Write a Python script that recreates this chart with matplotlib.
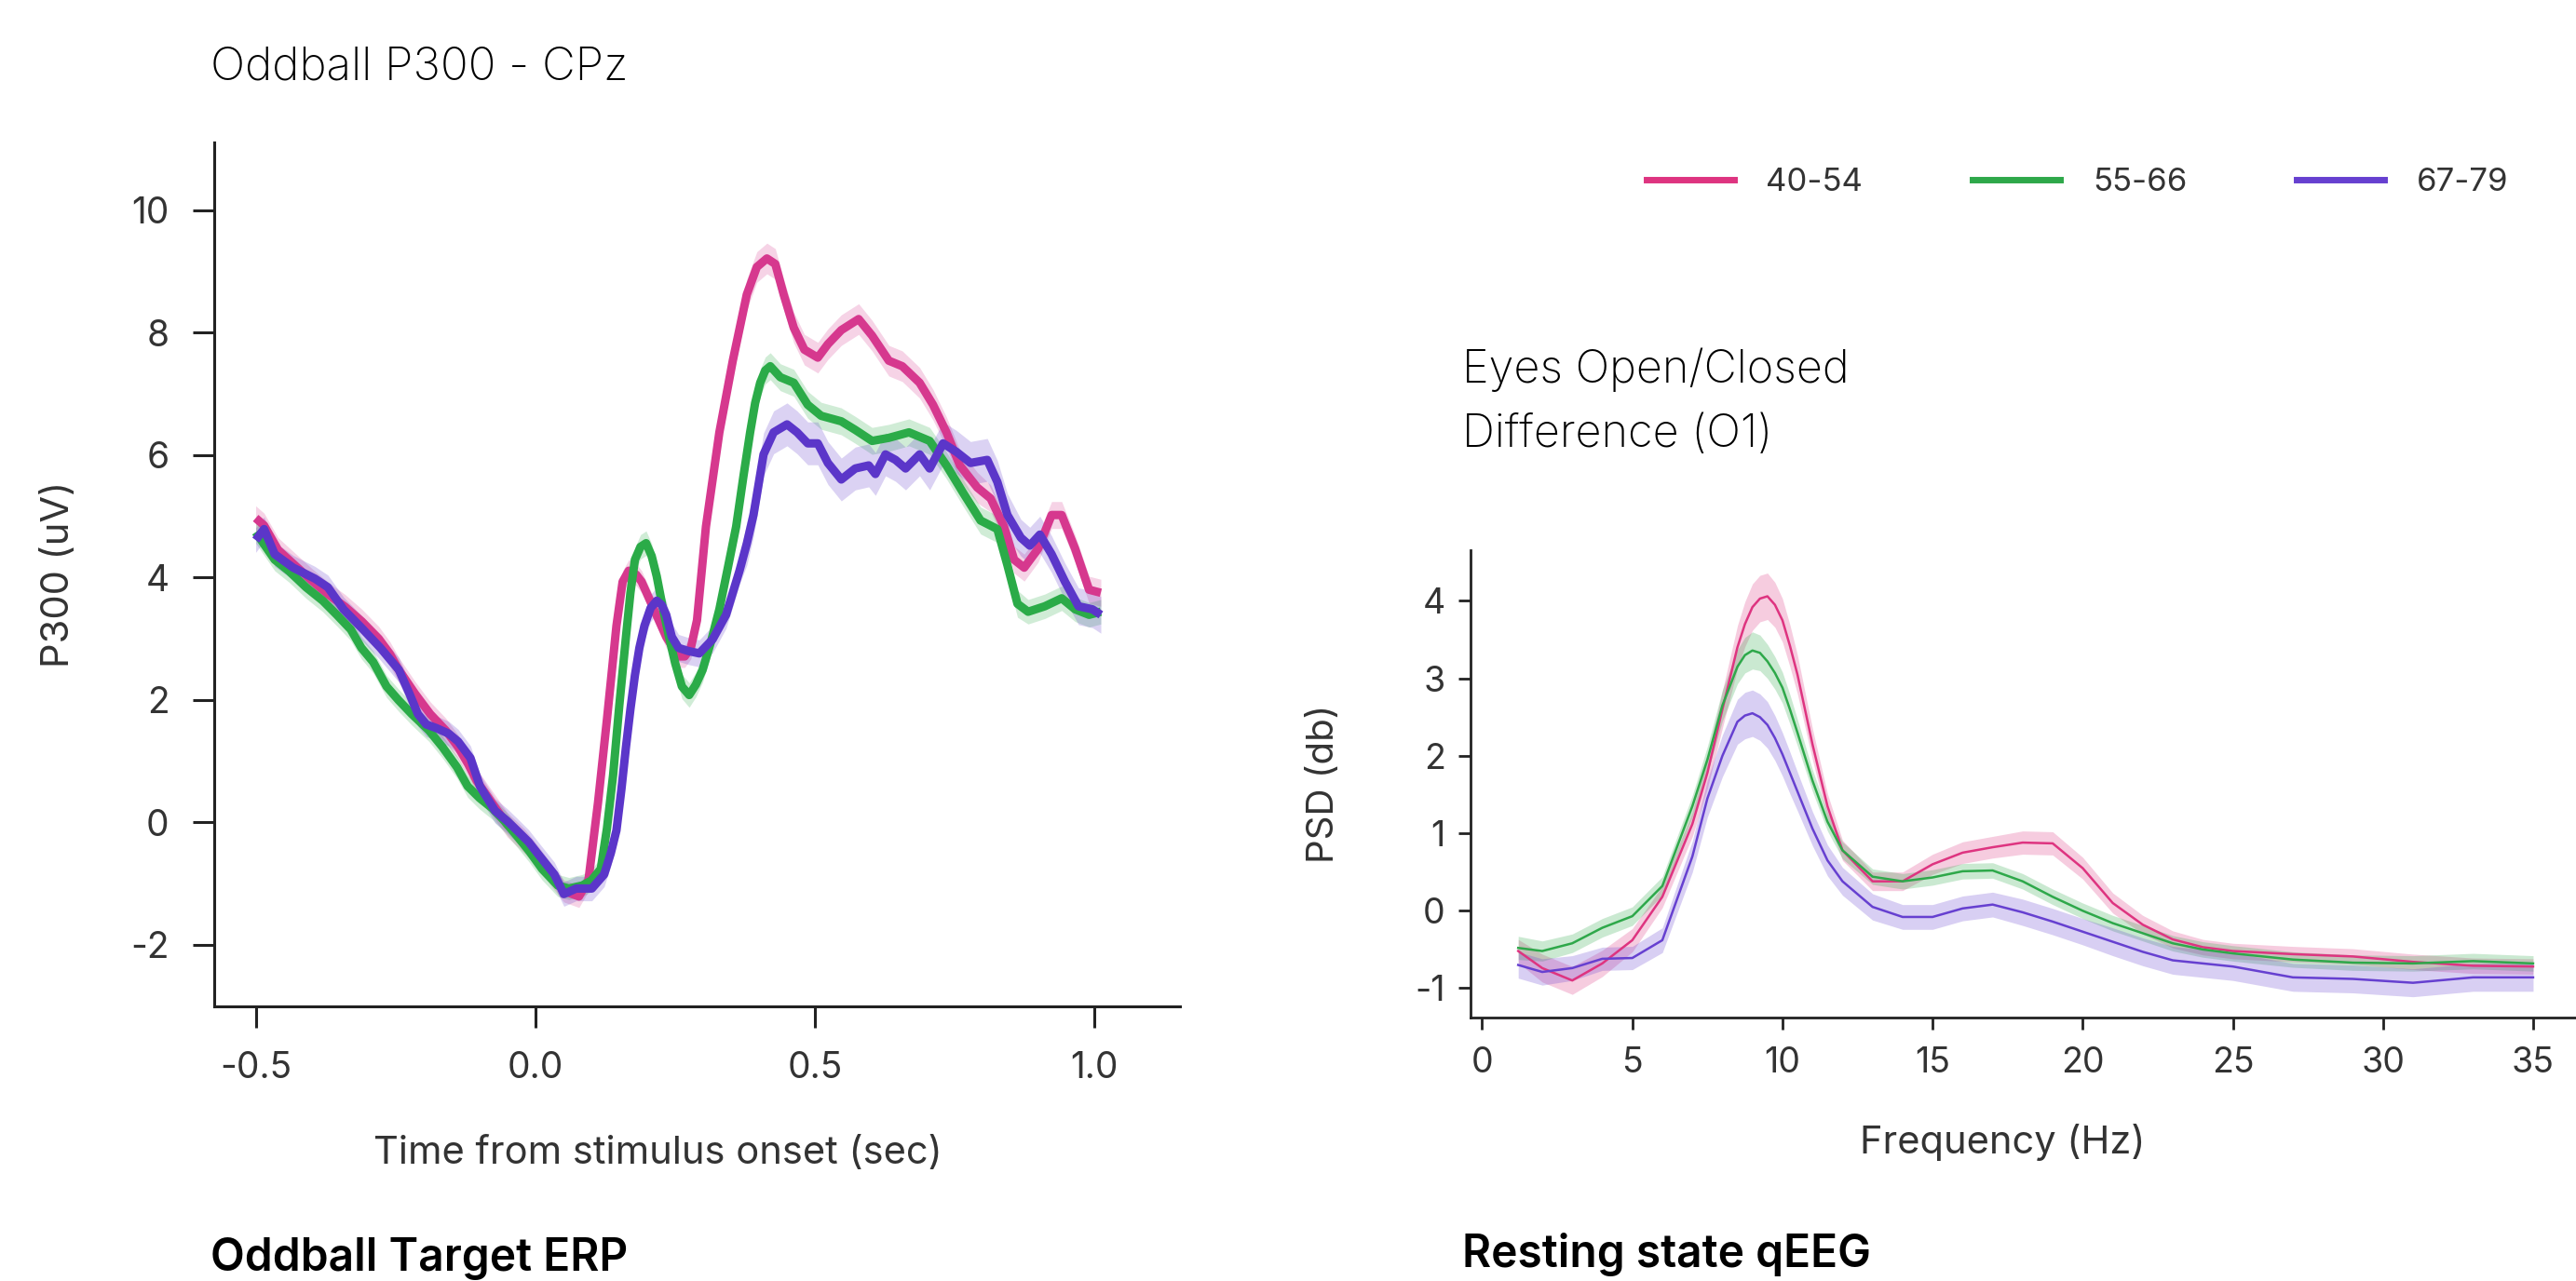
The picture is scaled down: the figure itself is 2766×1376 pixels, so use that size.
import matplotlib
matplotlib.use("Agg")
import matplotlib.pyplot as plt

plt.rcParams['font.family'] = ['Inter', 'DejaVu Sans']
plt.rcParams['axes.unicode_minus'] = False

# ---- ERP (oddball target, CPz) ----
pink_t = [-0.50, -0.485, -0.46, -0.43, -0.40, -0.37, -0.34, -0.31, -0.28, -0.26,
          -0.244, -0.215, -0.188, -0.16, -0.138, -0.12, -0.105, -0.08, -0.05, -0.02,
          0.006, 0.03, 0.051, 0.078, 0.095, 0.112, 0.128, 0.145, 0.156, 0.167,
          0.18, 0.19, 0.212, 0.234, 0.256, 0.267, 0.278, 0.289, 0.305, 0.329,
          0.353, 0.378, 0.396, 0.414, 0.429, 0.444, 0.462, 0.481, 0.505, 0.523,
          0.547, 0.578, 0.602, 0.632, 0.656, 0.687, 0.711, 0.735, 0.759, 0.79,
          0.814, 0.838, 0.856, 0.874, 0.899, 0.923, 0.941, 0.965, 0.99, 1.011]
pink_v = [4.97, 4.85, 4.45, 4.20, 3.95, 3.72, 3.52, 3.28, 3.00, 2.75,
          2.49, 2.10, 1.77, 1.50, 1.23, 0.95, 0.68, 0.35, -0.04, -0.30,
          -0.58, -0.88, -1.12, -1.21, -0.94, 0.32, 1.68, 3.21, 3.93, 4.11,
          4.05, 3.93, 3.48, 3.03, 2.71, 2.71, 2.85, 3.30, 4.83, 6.37,
          7.54, 8.62, 9.07, 9.21, 9.12, 8.62, 8.08, 7.72, 7.59, 7.81,
          8.04, 8.22, 7.95, 7.54, 7.45, 7.18, 6.82, 6.37, 5.83, 5.47,
          5.29, 4.83, 4.29, 4.16, 4.47, 5.02, 5.02, 4.47, 3.80, 3.75]
pink_sem = [0.20, 0.20, 0.20, 0.20, 0.20, 0.20, 0.20, 0.20, 0.20, 0.20,
            0.20, 0.20, 0.20, 0.20, 0.20, 0.20, 0.20, 0.20, 0.20, 0.20,
            0.18, 0.18, 0.18, 0.18, 0.18, 0.18, 0.18, 0.18, 0.18, 0.18,
            0.18, 0.18, 0.18, 0.18, 0.18, 0.18, 0.18, 0.18, 0.20, 0.22,
            0.25, 0.25, 0.25, 0.25, 0.25, 0.25, 0.25, 0.25, 0.25, 0.25,
            0.25, 0.25, 0.25, 0.25, 0.25, 0.25, 0.25, 0.25, 0.25, 0.25,
            0.22, 0.22, 0.22, 0.22, 0.22, 0.22, 0.22, 0.22, 0.22, 0.22]

green_t = [-0.50, -0.466, -0.44, -0.41, -0.38, -0.355, -0.33, -0.311, -0.29, -0.266,
           -0.245, -0.221, -0.19, -0.166, -0.14, -0.121, -0.10, -0.077, -0.055, -0.033,
           -0.01, 0.012, 0.04, 0.06, 0.084, 0.10, 0.117, 0.128, 0.139, 0.15,
           0.162, 0.17, 0.178, 0.188, 0.198, 0.208, 0.217, 0.228, 0.239, 0.25,
           0.262, 0.275, 0.287, 0.299, 0.314, 0.329, 0.344, 0.359, 0.372, 0.384,
           0.393, 0.402, 0.411, 0.42, 0.438, 0.462, 0.487, 0.511, 0.547, 0.572,
           0.602, 0.632, 0.668, 0.705, 0.735, 0.765, 0.796, 0.826, 0.844, 0.862,
           0.881, 0.911, 0.941, 0.965, 0.99, 1.011]
green_v = [4.74, 4.29, 4.10, 3.84, 3.62, 3.39, 3.15, 2.85, 2.62, 2.22,
           2.00, 1.77, 1.50, 1.23, 0.90, 0.59, 0.40, 0.23, 0.02, -0.22,
           -0.48, -0.76, -1.03, -1.08, -1.03, -0.95, -0.76, -0.10, 0.77, 1.90,
           3.03, 3.75, 4.29, 4.50, 4.56, 4.35, 4.02, 3.50, 3.03, 2.60,
           2.22, 2.08, 2.25, 2.49, 2.95, 3.48, 4.15, 4.83, 5.65, 6.37,
           6.85, 7.18, 7.38, 7.45, 7.27, 7.18, 6.82, 6.64, 6.55, 6.41,
           6.23, 6.28, 6.37, 6.23, 5.83, 5.38, 4.93, 4.79, 4.20, 3.57,
           3.44, 3.53, 3.66, 3.48, 3.39, 3.44]
green_sem = [0.18, 0.18, 0.18, 0.18, 0.18, 0.18, 0.18, 0.18, 0.18, 0.18,
             0.18, 0.18, 0.18, 0.18, 0.18, 0.18, 0.18, 0.18, 0.18, 0.18,
             0.18, 0.18, 0.18, 0.18, 0.18, 0.18, 0.18, 0.18, 0.18, 0.18,
             0.20, 0.20, 0.20, 0.20, 0.20, 0.20, 0.20, 0.20, 0.20, 0.20,
             0.20, 0.20, 0.20, 0.20, 0.20, 0.20, 0.20, 0.20, 0.20, 0.20,
             0.22, 0.22, 0.22, 0.22, 0.22, 0.22, 0.22, 0.22, 0.22, 0.22,
             0.22, 0.22, 0.22, 0.22, 0.22, 0.22, 0.22, 0.22, 0.22, 0.22,
             0.20, 0.20, 0.20, 0.20, 0.20, 0.20]

purple_t = [-0.50, -0.485, -0.466, -0.433, -0.394, -0.371, -0.343, -0.31, -0.277, -0.244,
            -0.225, -0.21, -0.195, -0.177, -0.155, -0.138, -0.116, -0.099, -0.085, -0.072,
            -0.05, -0.033, -0.012, 0.006, 0.034, 0.051, 0.073, 0.101, 0.123, 0.135,
            0.145, 0.154, 0.162, 0.17, 0.178, 0.186, 0.195, 0.206, 0.217, 0.226,
            0.234, 0.244, 0.256, 0.273, 0.293, 0.317, 0.341, 0.365, 0.378, 0.39,
            0.408, 0.426, 0.45, 0.468, 0.487, 0.505, 0.523, 0.547, 0.572, 0.596,
            0.608, 0.626, 0.644, 0.662, 0.687, 0.705, 0.729, 0.753, 0.778, 0.808,
            0.826, 0.844, 0.868, 0.884, 0.902, 0.923, 0.947, 0.971, 0.996, 1.011]
purple_v = [4.61, 4.79, 4.38, 4.16, 3.98, 3.84, 3.48, 3.17, 2.85, 2.49,
            2.10, 1.77, 1.60, 1.54, 1.45, 1.32, 1.05, 0.59, 0.38, 0.19,
            0.02, -0.13, -0.32, -0.53, -0.85, -1.17, -1.08, -1.08, -0.85, -0.50,
            -0.13, 0.55, 1.23, 1.85, 2.40, 2.85, 3.21, 3.50, 3.62, 3.55,
            3.39, 3.03, 2.85, 2.80, 2.76, 2.99, 3.39, 4.11, 4.55, 5.02,
            6.01, 6.37, 6.50, 6.37, 6.19, 6.19, 5.87, 5.60, 5.78, 5.83,
            5.69, 6.01, 5.92, 5.78, 6.01, 5.78, 6.19, 6.05, 5.87, 5.92,
            5.56, 5.02, 4.65, 4.52, 4.70, 4.38, 3.93, 3.53, 3.48, 3.39]
purple_sem = [0.20, 0.20, 0.20, 0.20, 0.20, 0.20, 0.20, 0.20, 0.20, 0.20,
              0.20, 0.20, 0.20, 0.20, 0.20, 0.20, 0.20, 0.20, 0.20, 0.20,
              0.20, 0.20, 0.20, 0.20, 0.20, 0.20, 0.20, 0.20, 0.20, 0.20,
              0.22, 0.22, 0.22, 0.22, 0.22, 0.22, 0.22, 0.22, 0.22, 0.22,
              0.22, 0.22, 0.22, 0.22, 0.22, 0.22, 0.22, 0.22, 0.35, 0.35,
              0.35, 0.35, 0.35, 0.35, 0.35, 0.35, 0.35, 0.35, 0.35, 0.35,
              0.35, 0.35, 0.35, 0.35, 0.35, 0.35, 0.35, 0.35, 0.35, 0.35,
              0.35, 0.35, 0.30, 0.30, 0.30, 0.30, 0.30, 0.30, 0.30, 0.30]

# ---- Resting state qEEG (eyes open/closed difference, O1) ----
freq = [1.2, 2, 3, 4, 5, 6, 7, 7.5, 8, 8.5, 8.75, 9, 9.25, 9.5, 9.75, 10, 10.25, 10.5,
        11, 11.5, 12, 13, 14, 15, 16, 17, 18, 19, 20, 21, 22, 23, 24, 25, 27, 29, 31, 33, 35]
psd_pink = [-0.52, -0.74, -0.90, -0.68, -0.38, 0.18, 1.12, 1.78, 2.60, 3.40, 3.70, 3.92,
            4.03, 4.06, 3.95, 3.75, 3.42, 3.05, 2.15, 1.35, 0.78, 0.38, 0.38, 0.60,
            0.75, 0.82, 0.88, 0.87, 0.55, 0.10, -0.18, -0.37, -0.47, -0.52, -0.56,
            -0.59, -0.66, -0.71, -0.72]
psd_green = [-0.48, -0.52, -0.42, -0.22, -0.07, 0.32, 1.35, 1.95, 2.65, 3.15, 3.30, 3.36,
             3.33, 3.22, 3.07, 2.88, 2.60, 2.30, 1.68, 1.15, 0.78, 0.44, 0.38, 0.43,
             0.51, 0.52, 0.38, 0.18, 0.00, -0.16, -0.29, -0.42, -0.50, -0.55, -0.63,
             -0.67, -0.68, -0.65, -0.68]
psd_purple = [-0.70, -0.79, -0.74, -0.62, -0.61, -0.38, 0.70, 1.45, 2.00, 2.44, 2.52, 2.55,
              2.50, 2.40, 2.23, 2.02, 1.78, 1.54, 1.06, 0.65, 0.38, 0.05, -0.08, -0.08,
              0.03, 0.08, -0.02, -0.14, -0.27, -0.40, -0.53, -0.64, -0.68, -0.72, -0.86,
              -0.88, -0.93, -0.86, -0.86]
sem_pink = [0.15, 0.18, 0.18, 0.17, 0.15, 0.14, 0.16, 0.20, 0.24, 0.28, 0.29, 0.30,
            0.30, 0.30, 0.29, 0.28, 0.27, 0.25, 0.20, 0.16, 0.13, 0.12, 0.12, 0.13,
            0.14, 0.14, 0.15, 0.15, 0.14, 0.13, 0.12, 0.11, 0.10, 0.10, 0.10,
            0.10, 0.10, 0.10, 0.10]
sem_green = [0.15, 0.13, 0.12, 0.12, 0.12, 0.12, 0.14, 0.17, 0.20, 0.22, 0.23, 0.24,
             0.23, 0.22, 0.21, 0.20, 0.19, 0.17, 0.14, 0.12, 0.11, 0.10, 0.10, 0.10,
             0.10, 0.10, 0.10, 0.10, 0.10, 0.10, 0.10, 0.10, 0.10, 0.10, 0.10,
             0.10, 0.10, 0.10, 0.10]
sem_purple = [0.17, 0.17, 0.16, 0.15, 0.15, 0.16, 0.20, 0.24, 0.27, 0.29, 0.30, 0.30,
              0.30, 0.30, 0.29, 0.28, 0.27, 0.25, 0.22, 0.20, 0.18, 0.17, 0.16, 0.16,
              0.16, 0.16, 0.17, 0.17, 0.17, 0.18, 0.18, 0.18, 0.18, 0.18, 0.18,
              0.18, 0.18, 0.18, 0.18]

groups = ['40-54', '55-66', '67-79']
erp_colors = ['#d6388e', '#2bab48', '#5b36c9']
psd_colors = ['#de3480', '#2ea84a', '#6640d0']

W, H = 2766, 1376
fig = plt.figure(figsize=(W / 100, H / 100), dpi=100)
txt = '#333333'

# ---------------- left: ERP ----------------
ax1 = fig.add_axes([229.5 / W, 1 - 1080.7 / H, (1266.7 - 229.5) / W, (1080.7 - 153.3) / H])
erp = [(pink_t, pink_v, pink_sem), (green_t, green_v, green_sem), (purple_t, purple_v, purple_sem)]
for (t, v, s), c in zip(erp, erp_colors):
    lo = [a - b for a, b in zip(v, s)]
    hi = [a + b for a, b in zip(v, s)]
    ax1.fill_between(t, lo, hi, color=c, alpha=0.22, linewidth=0)
for (t, v, s), c in zip(erp, erp_colors):
    ax1.plot(t, v, color=c, linewidth=6.5, solid_capstyle='butt', solid_joinstyle='round')

ax1.set_xlim(-0.575, 1.152)
ax1.set_ylim(-3, 11.1)
ax1.set_xticks([-0.5, 0.0, 0.5, 1.0])
ax1.set_xticklabels(['-0.5', '0.0', '0.5', '1.0'])
ax1.set_yticks([-2, 0, 2, 4, 6, 8, 10])
ax1.set_yticklabels(['-2', '0', '2', '4', '6', '8', '10'])
for side in ['top', 'right']:
    ax1.spines[side].set_visible(False)
for side in ['left', 'bottom']:
    ax1.spines[side].set_linewidth(2.2)
    ax1.spines[side].set_color('#222222')
ax1.tick_params(length=16.5, width=2.2, color='#222222', labelsize=28, labelcolor=txt, pad=18)
ax1.set_xlabel('Time from stimulus onset (sec)', fontsize=30, color=txt)
ax1.xaxis.set_label_coords(0.46, -0.15)
ax1.set_ylabel('P300 (uV)', fontsize=30, color=txt)
ax1.yaxis.set_label_coords(-0.142, 0.5)

# ---------------- right: PSD ----------------
ax2 = fig.add_axes([1578.6 / W, 1 - 1092.7 / H, (W - 1578.6) / W + 0.002, (1092.7 - 591) / H])
psd = [(psd_pink, sem_pink), (psd_green, sem_green), (psd_purple, sem_purple)]
for (v, s), c in zip(psd, psd_colors):
    lo = [a - b for a, b in zip(v, s)]
    hi = [a + b for a, b in zip(v, s)]
    ax2.fill_between(freq, lo, hi, color=c, alpha=0.25, linewidth=0)
lines = []
for (v, s), c, g in zip(psd, psd_colors, groups):
    ln, = ax2.plot(freq, v, color=c, linewidth=1.8, label=g, solid_joinstyle='round')
    lines.append(ln)

ax2.set_xlim(-0.4, 36.6)
ax2.set_ylim(-1.375, 4.655)
ax2.set_xticks([0, 5, 10, 15, 20, 25, 30, 35])
ax2.set_yticks([-1, 0, 1, 2, 3, 4])
for side in ['top', 'right']:
    ax2.spines[side].set_visible(False)
for side in ['left', 'bottom']:
    ax2.spines[side].set_linewidth(2.0)
    ax2.spines[side].set_color('#222222')
ax2.tick_params(length=9.5, width=2.0, color='#222222', labelsize=27, labelcolor=txt)
ax2.tick_params(axis='x', pad=13)
ax2.tick_params(axis='y', pad=10)
ax2.set_xlabel('Frequency (Hz)', fontsize=30, color=txt)
ax2.xaxis.set_label_coords(0.479, -0.228)
ax2.set_ylabel('PSD (db)', fontsize=29, color=txt)
ax2.yaxis.set_label_coords(-0.116, 0.5)

leg = fig.legend(handles=lines, labels=groups, loc='center left',
                 bbox_to_anchor=(1768 / W, 1 - 196 / H), ncol=3, frameon=False,
                 fontsize=25, handlelength=2.7, handletextpad=1.0, columnspacing=3.4,
                 borderpad=0, borderaxespad=0, labelcolor=txt)
for h in leg.get_lines():
    h.set_linewidth(5)

# ---------------- titles ----------------
fig.text(225.5 / W, 1 - 85 / H, 'Oddball P300 - CPz', fontsize=35.5, fontweight='light', va='baseline')
fig.text(1570 / W, 1 - 411 / H, 'Eyes Open/Closed', fontsize=35, fontweight='light', va='baseline')
fig.text(1570 / W, 1 - 480 / H, 'Difference (O1)', fontsize=35, fontweight='light', va='baseline')
fig.text(225.5 / W, 1 - 1365 / H, 'Oddball Target ERP', fontsize=34.5, fontweight='semibold', va='baseline')
fig.text(1570 / W, 1 - 1361 / H, 'Resting state qEEG', fontsize=34.5, fontweight='semibold', va='baseline')

fig.savefig('out.png', dpi=100, facecolor='white')
